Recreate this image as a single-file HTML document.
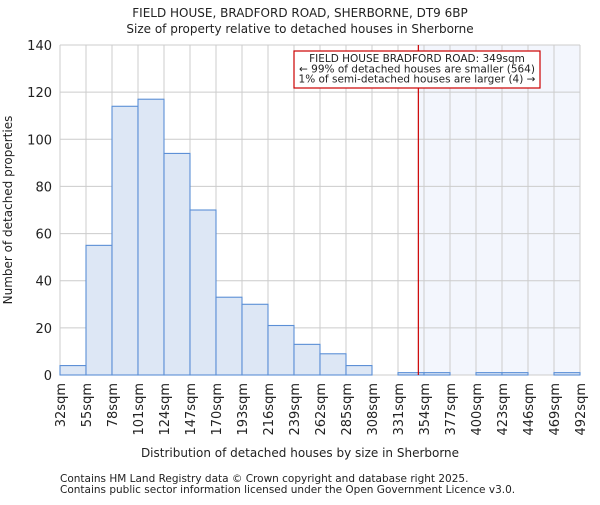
<!DOCTYPE html>
<html><head><meta charset="utf-8"><style>
body{margin:0;background:#fff;}
svg text{font-family:"DejaVu Sans","Liberation Sans",sans-serif;fill:#222;}
</style></head><body>
<svg width="600" height="500" id="c">
<text x="300" y="17" text-anchor="middle" font-size="12">FIELD HOUSE, BRADFORD ROAD, SHERBORNE, DT9 6BP</text>
<text x="300" y="33" text-anchor="middle" font-size="12">Size of property relative to detached houses in Sherborne</text>
<g id="grid"></g><g id="bars"></g><g id="axes"></g>
<text x="300" y="457" text-anchor="middle" font-size="12">Distribution of detached houses by size in Sherborne</text>
<text transform="translate(12,210) rotate(-90)" text-anchor="middle" font-size="12">Number of detached properties</text>
<text x="60" y="482" font-size="10.5" fill="#444">Contains HM Land Registry data © Crown copyright and database right 2025.</text>
<text x="60" y="493" font-size="10.5" fill="#444">Contains public sector information licensed under the Open Government Licence v3.0.</text>
</svg>
<script>
const edges=[32,55,78,101,124,147,170,193,216,239,262,285,308,331,354,377,400,423,446,469,492];
const counts=[4,55,114,117,94,70,33,30,21,13,9,4,0,1,1,0,1,1,0,1];
const yTicks=[0,20,40,60,80,100,120,140];
const marker=349;
const X0=60,X1=580,Y0=375,Y1=45;
const xs=v=>X0+(v-32)/(492-32)*(X1-X0);
const ys=v=>Y0-v/140*(Y0-Y1);
const NS="http://www.w3.org/2000/svg";
function mk(p,t,a){const e=document.createElementNS(NS,t);for(const k in a)e.setAttribute(k,a[k]);p.appendChild(e);return e;}
const grid=document.getElementById('grid'),bars=document.getElementById('bars'),axes=document.getElementById('axes');
const sh=mk(grid,'rect',{x:xs(marker),y:Y1,width:X1-xs(marker),height:Y0-Y1,fill:'#f3f6fd'});


yTicks.forEach(t=>{
  const l=mk(grid,'line',{x1:X0,x2:X1,y1:ys(t),y2:ys(t),stroke:'#ccc','stroke-width':1});
  
  
  const tx=mk(axes,'text',{x:X0-8,y:ys(t)+5,'text-anchor':'end','font-size':13});
  tx.textContent=t;
  
  
});
edges.forEach(e=>{
  const l=mk(grid,'line',{x1:xs(e),x2:xs(e),y1:Y1,y2:Y0,stroke:'#ccc','stroke-width':1});
  
  
  const tx=mk(axes,'text',{transform:`translate(${xs(e)+5},${Y0+8}) rotate(-90)`,'text-anchor':'end','font-size':13});
  tx.textContent=e+'sqm';
  
  
});
counts.forEach((c,i)=>{
  if(c<=0)return;
  const r=mk(bars,'rect',{x:xs(edges[i]),y:ys(c),width:xs(edges[i+1])-xs(edges[i]),height:Y0-ys(c),fill:'#dde7f5',stroke:'#5b8fd6','stroke-width':1.1});
  
  
});
const ln=mk(axes,'line',{x1:xs(marker),x2:xs(marker),y1:Y1,y2:Y0,stroke:'#cc0000','stroke-width':1.2});


const bx=mk(axes,'rect',{x:294,y:51,width:246,height:37,fill:'#fff',stroke:'#cc0000','stroke-width':1.2});


["FIELD HOUSE BRADFORD ROAD: 349sqm","← 99% of detached houses are smaller (564)","1% of semi-detached houses are larger (4) →"].forEach((s,i)=>{
  const t=mk(axes,'text',{x:417,y:62+i*10.3,'text-anchor':'middle','font-size':10.5});
  t.textContent=s;
  
  
});
</script>
</body></html>
